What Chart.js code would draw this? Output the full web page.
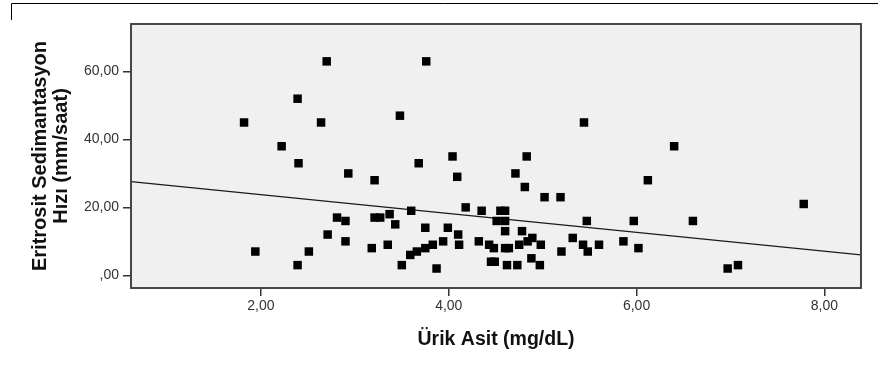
<!DOCTYPE html>
<html>
<head>
<meta charset="utf-8">
<script src="https://cdn.jsdelivr.net/npm/chart.js@4/dist/chart.umd.min.js"></script>
<style>
  html, body { margin: 0; padding: 0; background: #fff; }
  canvas { display: block; }
</style>
</head>
<body>
<canvas id="chart" width="878" height="367"></canvas>
<script>
// Ürik asit (mg/dL) vs ESH (mm/saat)
const uricAcid = [
  1.82, 1.94, 2.22, 2.39, 2.40, 2.39, 2.51, 2.64, 2.70, 2.71,
  2.81, 2.90, 2.90, 2.93, 3.18, 3.21, 3.21, 3.27, 3.35, 3.37,
  3.43, 3.48, 3.50, 3.59, 3.60, 3.66, 3.68, 3.75, 3.75, 3.76,
  3.83, 3.87, 3.94, 3.99, 4.04, 4.09, 4.10, 4.11, 4.18, 4.32,
  4.35, 4.43, 4.45, 4.48, 4.49, 4.51, 4.55, 4.60, 4.60, 4.60,
  4.60, 4.62, 4.64, 4.71, 4.73, 4.75, 4.78, 4.81, 4.83, 4.84,
  4.88, 4.89, 4.97, 4.98, 5.02, 5.19, 5.20, 5.32, 5.43, 5.44,
  5.47, 5.48, 5.60, 5.86, 5.97, 6.02, 6.12, 6.40, 6.60, 6.97,
  7.08, 7.78
];
const esr = [
  45, 7, 38, 52, 33, 3, 7, 45, 63, 12,
  17, 16, 10, 30, 8, 28, 17, 17, 9, 18,
  15, 47, 3, 6, 19, 7, 33, 8, 14, 63,
  9, 2, 10, 14, 35, 29, 12, 9, 20, 10,
  19, 9, 4, 8, 4, 16, 19, 19, 16, 13,
  8, 3, 8, 30, 3, 9, 13, 26, 35, 10,
  5, 11, 3, 9, 23, 23, 7, 11, 9, 45,
  16, 7, 9, 10, 16, 8, 28, 38, 16, 2,
  3, 21
];

// fit line ends (at the plot edges)
const fitX = [0.616, 8.39];
const fitY = [27.6, 6.0];

const xTicks = [2, 4, 6, 8];
const yTicks = [0, 20, 40, 60];

const fmt = v => v === 0 ? ',00' : v.toFixed(2).replace('.', ',');

const FONT = "'Liberation Sans', Arial, sans-serif";

const frame = {
  id: 'frame',
  beforeDraw(chart) {
    const { ctx, chartArea: a } = chart;
    ctx.save();
    ctx.fillStyle = '#f0f0f0';
    ctx.fillRect(a.left, a.top, a.right - a.left, a.bottom - a.top);
    // outer box, only partly visible
    ctx.strokeStyle = '#000';
    ctx.lineWidth = 1;
    ctx.beginPath();
    ctx.moveTo(11.5, 20);
    ctx.lineTo(11.5, 3.5);
    ctx.lineTo(878, 3.5);
    ctx.stroke();
    ctx.restore();
  },
  afterDraw(chart) {
    const { ctx, chartArea: a } = chart;
    ctx.save();
    ctx.strokeStyle = '#474747';
    ctx.lineWidth = 2;
    ctx.strokeRect(a.left, a.top, a.right - a.left, a.bottom - a.top);
    ctx.restore();
  }
};

new Chart(document.getElementById('chart').getContext('2d'), {
  type: 'scatter',
  data: {
    datasets: [
      {
        data: uricAcid.map((x, i) => ({ x, y: esr[i] })),
        pointStyle: 'rect',
        pointRadius: 6,
        backgroundColor: '#000',
        borderWidth: 0,
      },
      {
        type: 'line',
        data: fitX.map((x, i) => ({ x, y: fitY[i] })),
        borderColor: '#1a1a1a',
        borderWidth: 1.2,
        pointRadius: 0,
        fill: false,
      }
    ]
  },
  options: {
    responsive: false,
    animation: false,
    events: [],
    layout: { padding: { top: 24, right: 17, left: 0, bottom: 0 } },
    plugins: { legend: { display: false }, tooltip: { enabled: false } },
    scales: {
      x: {
        type: 'linear',
        min: 0.616,
        max: 8.39,
        afterBuildTicks: s => { s.ticks = xTicks.map(value => ({ value })); },
        afterFit: s => { s.height = 79; },
        grid: { drawOnChartArea: false, drawTicks: true, tickLength: 8, color: '#333', lineWidth: 1.5 },
        border: { display: false },
        ticks: { callback: fmt, color: '#333', font: { family: FONT, size: 14 }, padding: 2, maxRotation: 0 },
        title: {
          display: true,
          text: 'Ürik Asit (mg/dL)',
          color: '#111',
          font: { family: FONT, size: 19.5, weight: 'bold' },
          padding: { top: 0, bottom: 16 }
        }
      },
      y: {
        min: -3.74,
        max: 74,
        afterBuildTicks: s => { s.ticks = yTicks.map(value => ({ value })); },
        afterFit: s => { s.width = 131; },
        grid: { drawOnChartArea: false, drawTicks: true, tickLength: 8, color: '#333', lineWidth: 1.5 },
        border: { display: false },
        ticks: { callback: fmt, color: '#333', font: { family: FONT, size: 14 }, padding: 4 },
        title: {
          display: true,
          text: ['Eritrosit Sedimantasyon', 'Hızı (mm/saat)'],
          color: '#111',
          font: { family: FONT, size: 20, weight: 'bold', lineHeight: 1.05 },
          padding: { top: 29.5, bottom: 0 }
        }
      }
    }
  },
  plugins: [frame]
});
</script>
</body>
</html>
